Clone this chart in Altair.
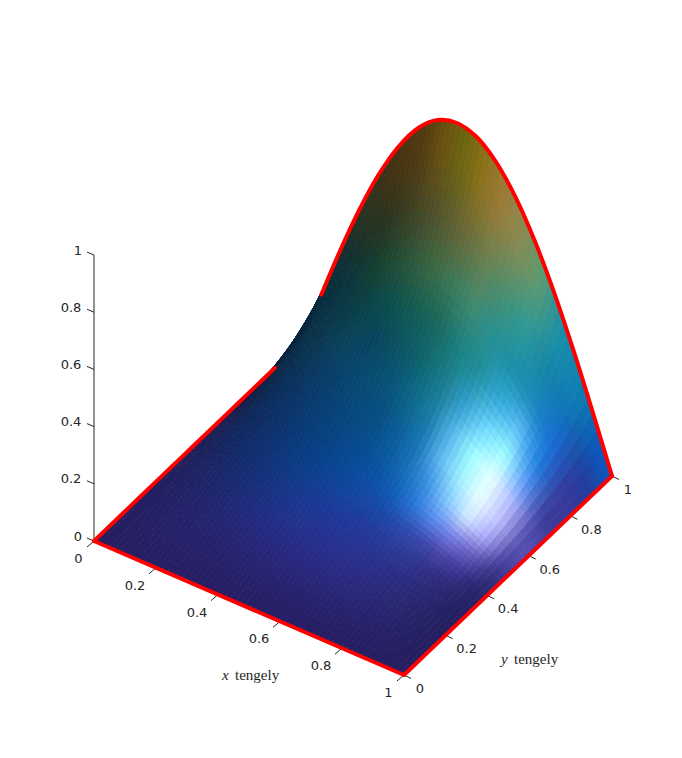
import altair as alt
import pandas as pd

# Surface heights: rows run along y, columns along x
Z_HALF = [
 [0,0,0,0,0,0,0,0,0],
 [0,.003,.007,.010,.012,.014,.016,.017,.017],
 [0,.007,.013,.019,.025,.029,.032,.034,.035],
 [0,.011,.021,.030,.038,.045,.050,.053,.054],
 [0,.015,.029,.042,.053,.062,.069,.074,.075],
 [0,.019,.038,.055,.070,.083,.092,.097,.099],
 [0,.025,.049,.071,.090,.106,.118,.125,.127],
 [0,.031,.061,.089,.113,.133,.148,.157,.161],
 [0,.039,.076,.111,.141,.166,.184,.196,.199],
 [0,.048,.094,.137,.174,.204,.227,.241,.246],
 [0,.059,.116,.168,.214,.251,.279,.297,.302],
 [0,.072,.142,.206,.262,.308,.342,.363,.370],
 [0,.088,.173,.252,.320,.376,.418,.444,.453],
 [0,.108,.212,.307,.391,.459,.511,.542,.553],
 [0,.131,.258,.375,.476,.560,.623,.661,.674],
 [0,.160,.315,.457,.581,.682,.759,.806,.821],
 [0,.195,.383,.556,.707,.831,.924,.981,1],
]
Z_TABLE = [r + r[-2::-1] for r in Z_HALF]

# Facet colours, row = y band, column = x band
COLOURS = [
 "#261e62 #261e62 #261e64 #261e64 #261e64 #261e64 #261e64 #261e66 #261e66 #261e66 #261e66 #261e64 #261e64 #261e64 #261e62 #261e60".split(),
 "#251f62 #261f64 #262066 #262068 #262168 #26216a #26226c #27226e #27226e #27226e #27226e #27226c #27216a #262066 #252064 #241e60".split(),
 "#241f62 #252066 #25216a #25226c #25236e #262472 #262576 #272678 #27267a #28267a #28267a #282678 #282574 #27246e #262268 #241f60".split(),
 "#231f62 #232066 #23226a #232470 #232674 #24287a #252a80 #262b84 #272c86 #282c88 #2a2c86 #2a2b80 #2a2a7a #292872 #262468 #241f60".split(),
 "#211f60 #212165 #20246a #1f2670 #1e2a78 #1f2e80 #203088 #22338c #253090 #263292 #28328f #29308c #2a2e86 #2a2b7c #282670 #241f62".split(),
 "#1f205e #1e2364 #1c266a #1a2a72 #182e7a #183282 #18368c #1a3894 #1c3898 #20389a #24389a #2a3a98 #2e3a90 #302f88 #2e2a78 #262265".split(),
 "#1f205a #1a2462 #162868 #142d70 #113278 #0f3880 #0e3c8a #0f4094 #12449c #1646a2 #1a48a8 #2a4cb0 #3a48b0 #4a46a8 #3e3898 #2a2670".split(),
 "#1e1f58 #162560 #122a68 #0f2f70 #0c3578 #0a3b80 #084088 #074690 #074c9a #0a50a8 #1060b8 #2878d8 #5c8cf0 #7a80e8 #6a60c0 #383288".split(),
 "#1f1f55 #12255c #0f2a62 #0c306a #0a3670 #083c78 #07427e #064886 #064e8e #0a5aa0 #1a70b8 #3a90e0 #80c8ff #d0e8ff #a8a8f8 #4a45a0".split(),
 "#1c1f50 #0f2656 #0c2c5e #0a3266 #0a386c #083e72 #074478 #064a7e #065084 #0c6098 #1878b8 #60b8f0 #a0f0ff #e8ffff #c0c0ff #5550b0".split(),
 "#181d48 #0c264f #0a2d58 #0a335e #0a3a64 #084068 #07486e #074e72 #08567a #0f6a88 #1c80a8 #58b8f0 #a0ffff #e8ffff #b0b8ff #4a48a8".split(),
 "#151a3a #0b2748 #0a2e50 #0a3555 #0a3d58 #0b465c #084260 #0a4c60 #0c5868 #0f6a72 #1c7f90 #30a0d0 #70d8ff #a0ffff #6098f8 #3a3a9a".split(),
 "#101b35 #0a2845 #0a3048 #0a3548 #083a48 #0a4048 #0a4a4a #0f5550 #126055 #1a6a60 #1a8080 #1f8e9a #30a8d8 #60c0f8 #2080e0 #3a3a9a".split(),
 "#0c1a32 #062540 #062c40 #083040 #0c383a #14402f #214a34 #2e5a3c #3a6a45 #3a7a5a #3f8a70 #259090 #1a8fa8 #1b8bc0 #1a70d8 #30389a".split(),
 "#0a2030 #05283c #06303a #123030 #203220 #2c3320 #3a3f22 #4a4a28 #5a5a30 #6a6a3a #6a8050 #4a9070 #2a9a98 #1585a8 #1070c0 #2040a0".split(),
 "#07283a #052a38 #12302c #2a3320 #3a3218 #4a3410 #503c10 #6a5010 #6b6510 #8a7018 #9a7a35 #8a8a50 #5a9a70 #1a90a8 #0d80b0 #0d55b8".split(),
]

TICKS = [0, 0.2, 0.4, 0.6, 0.8, 1]
TICK_LABELS = ["0", "0.2", "0.4", "0.6", "0.8", "1"]
N = 16
SUB = 4   # each read-off quad is shaded smoothly with SUB x SUB pieces

OX, OY = 94.0, 541.0
def sx(x, y, z=0):
    return OX + 310 * x + 208 * y
def sy(x, y, z=0):
    return OY + 134 * x - 199 * y - 286 * z

def rgb(h):
    return [int(h[i:i + 2], 16) for i in (1, 3, 5)]
RGB = [[rgb(c) for c in r] for r in COLOURS]

def shade(u, v):
    """Gouraud shading between the colours read at the quad centres."""
    a = min(max(u - .5, 0), N - 1.001)
    b = min(max(v - .5, 0), N - 1.001)
    i, j = int(a), int(b)
    fa, fb = a - i, b - j
    out = []
    for c in range(3):
        val = ((1 - fa) * (1 - fb) * RGB[j][i][c] + fa * (1 - fb) * RGB[j][i + 1][c]
               + (1 - fa) * fb * RGB[j + 1][i][c] + fa * fb * RGB[j + 1][i + 1][c])
        out.append(int(round(val)))
    return "#%02x%02x%02x" % tuple(out)

def height(u, v):
    i, j = min(int(u), N - 1), min(int(v), N - 1)
    fa, fb = u - i, v - j
    return ((1 - fa) * (1 - fb) * Z_TABLE[j][i] + fa * (1 - fb) * Z_TABLE[j][i + 1]
            + (1 - fa) * fb * Z_TABLE[j + 1][i] + fa * fb * Z_TABLE[j + 1][i + 1])

cells = []
M = N * SUB
for jj in range(M - 1, -1, -1):
    for kk in range(M):
        cid = (M - 1 - jj) * M + kk
        col = shade((kk + .5) / SUB, (jj + .5) / SUB)
        for v, (a, b) in enumerate([(kk, jj), (kk + 1, jj), (kk + 1, jj + 1), (kk, jj + 1)]):
            u_, v_ = a / SUB, b / SUB
            x, y, z = u_ / N, v_ / N, height(u_, v_)
            cells.append(dict(cell=f"c{cid:05d}", v=v, px=round(sx(x, y, z), 2),
                              py=round(sy(x, y, z), 2), col=col))
cells = pd.DataFrame(cells)

X = alt.X("px:Q", scale=alt.Scale(domain=[8, 674], nice=False, zero=False), axis=None)
Y = alt.Y("py:Q", scale=alt.Scale(domain=[738, 8], nice=False, zero=False), axis=None)

alt.data_transformers.disable_max_rows()
surface = alt.Chart(cells).mark_line(strokeWidth=1, strokeJoin="round").encode(
    X, Y, detail="cell:N", order="v:Q",
    fill=alt.Fill("col:N", scale=None),
    stroke=alt.Stroke("col:N", scale=None),
)

edges = []
for i in range(0, 15):
    t = i / 14 * 0.87
    edges.append(dict(e="a", o=i, px=sx(0, t), py=sy(0, t)))
edges += [dict(e="b", o=i, px=sx(t, 0), py=sy(t, 0)) for i, t in enumerate([0, 1])]
edges += [dict(e="c", o=i, px=sx(1, t), py=sy(1, t)) for i, t in enumerate([0, 1])]
for k in range(1, N + 1):
    edges.append(dict(e="d", o=k, px=sx(k / N, 1, Z_TABLE[N][k]), py=sy(k / N, 1, Z_TABLE[N][k])))
edges = pd.DataFrame(edges)
red = alt.Chart(edges).mark_line(color="#ff0000", strokeWidth=4, strokeCap="round",
                                 interpolate="catmull-rom").encode(X, Y, detail="e:N", order="o:Q")

rules, labels = [], []
for t, lab in zip(TICKS, TICK_LABELS):
    rules.append(dict(px=sx(t, 0), py=sy(t, 0), qx=sx(t, 0) - 7, qy=sy(t, 0) + 6))
    rules.append(dict(px=sx(1, t), py=sy(1, t), qx=sx(1, t) + 7, qy=sy(1, t) + 3.5))
    rules.append(dict(px=OX, py=sy(0, 0, t), qx=OX - 7, qy=sy(0, 0, t) - 3))
    end = t in (0, 1)
    labels.append(dict(px=sx(t, 0) - (15.5 if end else 21), py=sy(t, 0) + 18, t=lab))
    labels.append(dict(px=sx(1, t) + (16 if end else 21), py=sy(1, t) + 14, t=lab))
    labels.append(dict(px=OX - 18 + (2 if lab in ("0", "1") else -5), py=sy(0, 0, t) - 4.5, t=lab))
rules.append(dict(px=OX, py=sy(0, 0, 0), qx=OX, qy=sy(0, 0, 1)))
rules = pd.DataFrame(rules)
labels = pd.DataFrame(labels)

rule_layer = alt.Chart(rules).mark_rule(color="#262626", strokeWidth=1).encode(
    X, Y, x2="qx:Q", y2="qy:Q")
text_layer = alt.Chart(labels).mark_text(font="DejaVu Sans", fontSize=13, color="#262626",
                                         align="center", baseline="middle").encode(X, Y, text="t:N")

TITLE_X = [222, 501]
TITLE_WORD_X = [235, 514]
TITLE_PY = [675, 659]
T_ITAL = ["x", "y"]
WORD = "tengely"
ital = alt.Chart(pd.DataFrame(dict(px=TITLE_X, py=TITLE_PY, t=T_ITAL))).mark_text(
    font="Liberation Serif", fontStyle="italic", fontSize=15, color="#262626", align="left"
).encode(X, Y, text="t:N")
word = alt.Chart(pd.DataFrame(dict(px=TITLE_WORD_X, py=TITLE_PY, t=[WORD, WORD]))).mark_text(
    font="Liberation Serif", fontSize=15, color="#262626", align="left").encode(X, Y, text="t:N")

chart = (rule_layer + surface + red + text_layer + ital + word).properties(
    width=666, height=730, padding=0, background="white"
).configure_view(stroke=None)

chart.save("out.html", embed_options={"renderer": "svg", "actions": False})
